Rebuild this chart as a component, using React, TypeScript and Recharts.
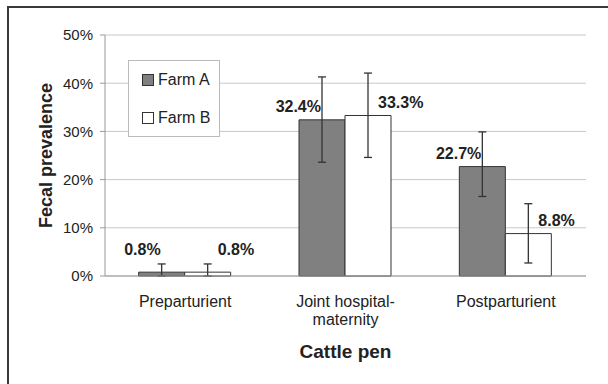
import React from "react";
import {
  Bar,
  BarChart,
  CartesianGrid,
  ErrorBar,
  LabelList,
  Legend,
  ReferenceLine,
  XAxis,
  YAxis,
} from "recharts";

const FONT = "Arial, 'Liberation Sans', sans-serif";

const pens = ["Preparturient", "Joint hospital-maternity", "Postparturient"];
const farmA = [0.8, 32.4, 22.7];
const farmALow = [0, 23.6, 16.5];
const farmAHigh = [2.5, 41.3, 29.9];
const farmB = [0.8, 33.3, 8.8];
const farmBLow = [0, 24.6, 2.7];
const farmBHigh = [2.5, 42.1, 15.0];
const yTicks = [0, 10, 20, 30, 40, 50];
const penEdges = [0, 1, 2, 3];

const data = pens.map((pen, i) => ({
  pen,
  a: farmA[i],
  aErr: [farmA[i] - farmALow[i], farmAHigh[i] - farmA[i]],
  b: farmB[i],
  bErr: [farmB[i] - farmBLow[i], farmBHigh[i] - farmB[i]],
}));

function pctLabel(side: "a" | "b") {
  return (props: any) => {
    const { x, y, width, height, value } = props;
    const cx = x + width / 2;
    const ly = Math.min(y - 13, y + height - 27);
    return (
      <text
        x={side === "a" ? cx - 1 : cx + 10}
        y={ly}
        textAnchor={side === "a" ? "end" : "start"}
        dominantBaseline="central"
        fontFamily={FONT}
        fontSize={16}
        fontWeight="bold"
        fill="#222"
      >
        {`${value}%`}
      </text>
    );
  };
}

function PenTick({ x, y, payload }: any) {
  const lines = String(payload.value).split(/(?<=-)/);
  return (
    <text x={x} y={y + 30} textAnchor="middle" fontFamily={FONT} fontSize={16} fill="#222">
      {lines.map((l, i) => (
        <tspan key={i} x={x} dy={i === 0 ? 0 : 18}>
          {l}
        </tspan>
      ))}
    </text>
  );
}

function LegendBox({ payload }: any) {
  return (
    <div
      style={{
        width: 92,
        height: 77,
        boxSizing: "border-box",
        border: "1px solid #bbb",
        background: "#fff",
        fontFamily: FONT,
        fontSize: 16,
        color: "#222",
        position: "relative",
      }}
    >
      {(payload || []).map((p: any, i: number) => (
        <div
          key={p.value}
          style={{
            position: "absolute",
            left: 13,
            top: i === 0 ? 10 : 48,
            display: "flex",
            alignItems: "center",
            whiteSpace: "nowrap",
          }}
        >
          <span
            style={{
              width: 10,
              height: 10,
              border: "1px solid #333",
              background: p.payload?.fill ?? p.color,
              marginRight: 4,
              display: "inline-block",
            }}
          />
          {p.value}
        </div>
      ))}
    </div>
  );
}

export default function App() {
  return (
    <div
      style={{
        position: "relative",
        width: 608,
        height: 384,
        overflow: "hidden",
        background: "#fff",
      }}
    >
      <style>{"body{margin:0}"}</style>
      <div style={{ position: "absolute", left: 7, top: 6 }}>
        <BarChart
          width={601}
          height={378}
          data={data}
          margin={{ top: 29, right: 22, left: 0, bottom: 18 }}
          barCategoryGap="21%"
          barGap={0}
        >
          <XAxis
            xAxisId={0}
            type="number"
            domain={[0, 3]}
            ticks={penEdges}
            allowDataOverflow
            height={1}
            tick={false}
            tickSize={5}
            tickLine={{ stroke: "#999" }}
            axisLine={{ stroke: "#999" }}
          />
          <XAxis
            xAxisId={1}
            dataKey="pen"
            height={89}
            interval={0}
            tickSize={0}
            tickMargin={0}
            tickLine={false}
            axisLine={false}
            tick={<PenTick />}
            label={{
              content: ({ viewBox }: any) => (
                <text
                  x={viewBox.x + viewBox.width / 2}
                  y={viewBox.y + 81}
                  textAnchor="middle"
                  fontFamily={FONT}
                  fontSize={19}
                  fontWeight="bold"
                  fill="#222"
                >
                  Cattle pen
                </text>
              ),
            }}
          />
          <YAxis
            width={98}
            domain={[0, 50]}
            ticks={yTicks}
            tickFormatter={(v) => `${v}%`}
            tick={{ fill: "#222", fontSize: 15, fontFamily: FONT }}
            tickSize={5}
            tickMargin={7}
            axisLine={{ stroke: "#999" }}
            tickLine={{ stroke: "#999" }}
            label={{
              content: ({ viewBox }: any) => {
                const cx = viewBox.x + 39;
                const cy = viewBox.y + viewBox.height / 2;
                return (
                  <text
                    x={cx}
                    y={cy}
                    transform={`rotate(-90 ${cx} ${cy})`}
                    textAnchor="middle"
                    dominantBaseline="central"
                    fontFamily={FONT}
                    fontSize={18}
                    fontWeight="bold"
                    fill="#222"
                  >
                    Fecal prevalence
                  </text>
                );
              },
            }}
          />
          <CartesianGrid xAxisId={1} vertical={false} stroke="#c8c8c8" />
          <ReferenceLine xAxisId={0} x={3} stroke="#c8c8c8" />
          <Legend
            layout="horizontal"
            verticalAlign="middle"
            align="center"
            wrapperStyle={{ left: 121, top: 54, width: 92, height: 77 }}
            content={<LegendBox />}
          />
          <Bar
            xAxisId={1}
            dataKey="a"
            name="Farm A"
            fill="#808080"
            stroke="#333"
            strokeWidth={1}
            isAnimationActive={false}
          >
            <ErrorBar dataKey="aErr" direction="y" width={4} stroke="#333" strokeWidth={1.3} />
            <LabelList dataKey="a" content={pctLabel("a")} />
          </Bar>
          <Bar
            xAxisId={1}
            dataKey="b"
            name="Farm B"
            fill="#ffffff"
            stroke="#333"
            strokeWidth={1}
            isAnimationActive={false}
          >
            <ErrorBar dataKey="bErr" direction="y" width={4} stroke="#333" strokeWidth={1.3} />
            <LabelList dataKey="b" content={pctLabel("b")} />
          </Bar>
        </BarChart>
      </div>
      <div
        style={{
          position: "absolute",
          left: 7,
          top: 6,
          width: 700,
          height: 500,
          borderTop: "2px solid #3a3a3a",
          borderLeft: "2px solid #3a3a3a",
          pointerEvents: "none",
        }}
      />
    </div>
  );
}
